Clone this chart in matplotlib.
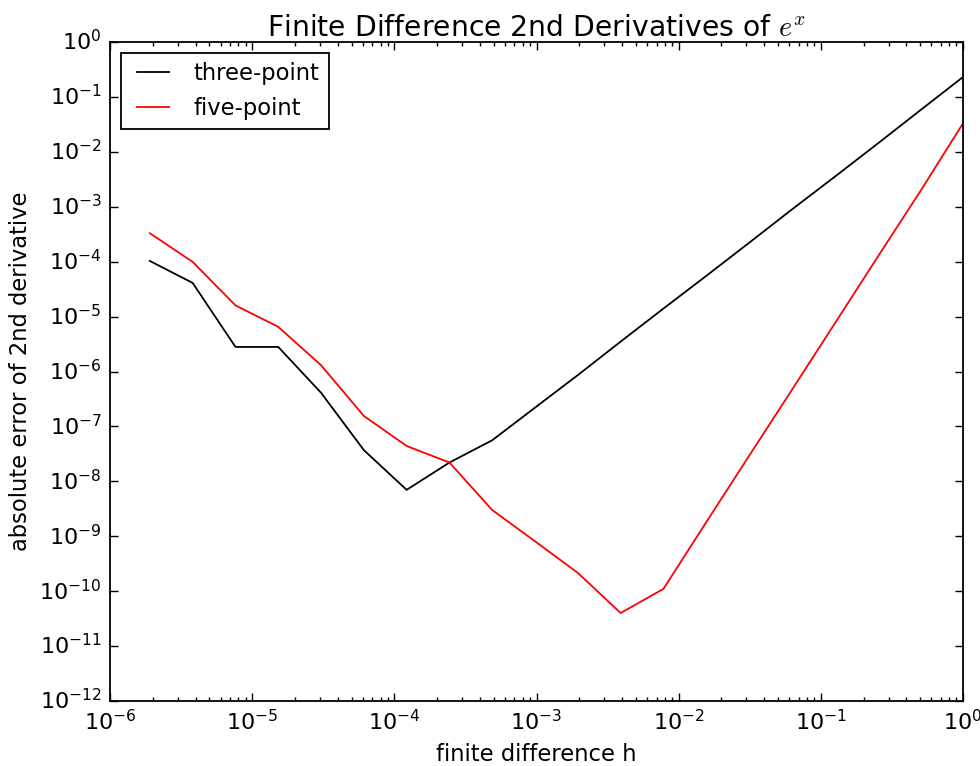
import matplotlib
matplotlib.use("Agg")
import matplotlib.pyplot as plt

h = [1.9073e-6, 3.8147e-6, 7.6294e-6, 1.5259e-5, 3.0518e-5, 6.1035e-5,
     1.2207e-4, 2.4414e-4, 4.8828e-4, 9.7656e-4, 1.9531e-3, 3.9063e-3,
     7.8125e-3, 1.5625e-2, 3.125e-2, 6.25e-2, 0.125, 0.25, 0.5, 1.0]
three_point = [1.03e-4, 4.1e-5, 2.8e-6, 2.8e-6, 4.1e-7, 3.7e-8, 7.0e-9, 2.2e-8,
               5.6e-8, 2.2e-7, 8.6e-7, 3.5e-6, 1.4e-5, 5.5e-5, 2.2e-4, 8.9e-4,
               3.5e-3, 1.4e-2, 5.7e-2, 0.23]
five_point = [3.3e-4, 9.9e-5, 1.6e-5, 6.5e-6, 1.3e-6, 1.55e-7, 4.4e-8, 2.2e-8,
              3.0e-9, 8.1e-10, 2.15e-10, 4.0e-11, 1.1e-10, 1.8e-9, 2.9e-8,
              4.6e-7, 7.4e-6, 1.2e-4, 1.9e-3, 3.3e-2]

plt.style.use('classic')
plt.rcParams['font.size'] = 16
plt.rcParams['axes.linewidth'] = 1.3

fig = plt.figure(figsize=(9.8, 7.66), dpi=100, facecolor='white')
ax = fig.add_axes([110/980, 1-701/766, 853/980, 659/766])
ax.plot(h, three_point, color='black', lw=1.3, label='three-point')
ax.plot(h, five_point, color='red', lw=1.3, label='five-point')
ax.set_xscale('log')
ax.set_yscale('log')
ax.set_xlim(1e-6, 1)
ax.set_ylim(1e-12, 1)
ax.tick_params(which='major', length=5.5, width=1.0, labelsize=16, pad=6)
ax.tick_params(which='minor', length=2.8, width=1.0)
ax.set_title('Finite Difference 2nd Derivatives of $e^x$', fontsize=20.3, pad=4)
ax.set_xlabel('finite difference h', fontsize=16.3, labelpad=6)
ax.set_ylabel('absolute error of 2nd derivative', fontsize=16.3)
leg = ax.legend(loc='upper left', fontsize=16.3)
leg.get_frame().set_linewidth(1.3)
fig.savefig('out.png', dpi=100, facecolor='white')
